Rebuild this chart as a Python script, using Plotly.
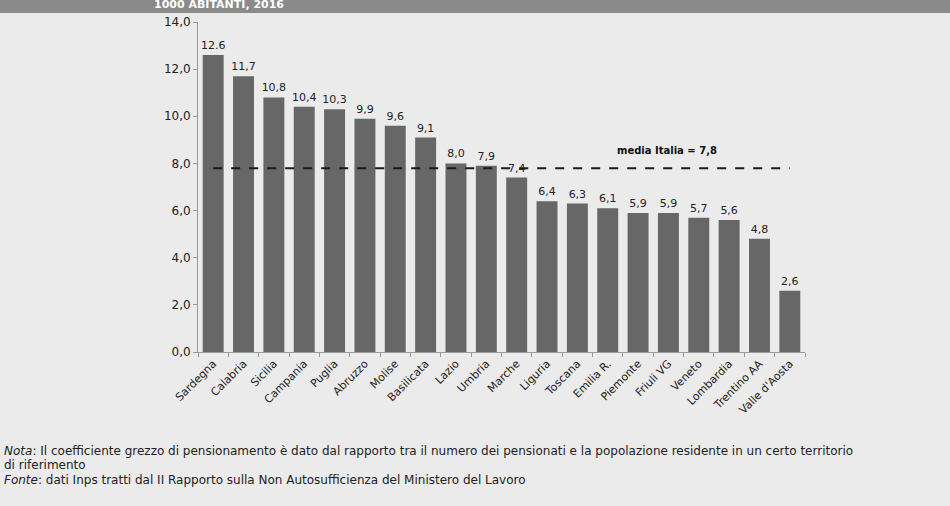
import plotly.graph_objects as go

regions = ["Sardegna", "Calabria", "Sicilia", "Campania", "Puglia", "Abruzzo", "Molise",
           "Basilicata", "Lazio", "Umbria", "Marche", "Liguria", "Toscana", "Emilia R.",
           "Piemonte", "Friuli VG", "Veneto", "Lombardia", "Trentino AA", "Valle d'Aosta"]
values = [12.6, 11.7, 10.8, 10.4, 10.3, 9.9, 9.6, 9.1, 8.0, 7.9, 7.4, 6.4, 6.3, 6.1,
          5.9, 5.9, 5.7, 5.6, 4.8, 2.6]
value_labels = ["12.6", "11,7", "10,8", "10,4", "10,3", "9,9", "9,6", "9,1", "8,0", "7,9",
                "7,4", "6,4", "6,3", "6,1", "5,9", "5,9", "5,7", "5,6", "4,8", "2,6"]
media_italia = 7.8
y_ticks = [0, 2, 4, 6, 8, 10, 12, 14]
y_tick_labels = ["0,0", "2,0", "4,0", "6,0", "8,0", "10,0", "12,0", "14,0"]

FONT = "DejaVu Sans, sans-serif"
BG = "#ebebeb"

W, H = 950, 506
L, R, T, B = 198, 145, 22, 154
pw, ph = W - L - R, H - T - B

def px_x(x):
    return (x - L) / pw

def px_y(y):
    return (H - B - y) / ph

fig = go.Figure()
fig.add_trace(go.Bar(
    x=regions, y=values, text=value_labels, textposition="outside",
    cliponaxis=False, constraintext="none",
    textfont=dict(family=FONT, size=11, color="#222222"),
    marker=dict(color="#676767", line=dict(width=0)),
    showlegend=False,
))
fig.add_trace(go.Scatter(
    x=[regions[0], regions[-1]], y=[media_italia, media_italia], mode="lines",
    line=dict(color="#1a1a1a", width=2, dash="dash"), showlegend=False,
))

fig.update_layout(
    width=W, height=H,
    margin=dict(l=L, r=R, t=T, b=B),
    paper_bgcolor=BG, plot_bgcolor=BG,
    bargap=0.31,
    font=dict(family=FONT, color="#222222"),
    xaxis=dict(tickangle=-45, tickfont=dict(family=FONT, size=11, color="#222222"),
               showline=True, linecolor="#999999", linewidth=1, automargin=False,
               ticks="outside", ticklen=4, tickcolor="#999999", tickson="boundaries",
               showgrid=False),
    yaxis=dict(range=[0, 14], tickvals=y_ticks, ticktext=y_tick_labels,
               tickfont=dict(family=FONT, size=12, color="#222222"), automargin=False,
               showline=True, linecolor="#999999", linewidth=1,
               ticks="outside", ticklen=4, tickcolor="#999999",
               showgrid=False, zeroline=False),
    shapes=[dict(type="rect", xref="paper", yref="paper",
                 x0=px_x(0), x1=px_x(W), y0=px_y(13), y1=px_y(-2),
                 fillcolor="#8a8a8a", line=dict(width=0), layer="below")],
    annotations=[
        dict(text="<b>1000 ABITANTI, 2016</b>", xref="paper", yref="paper",
             x=px_x(152), y=px_y(13), xanchor="left", yanchor="bottom",
             showarrow=False, font=dict(family="DejaVu Sans, sans-serif", size=11, color="#ffffff")),
        dict(text="<b>media Italia = 7,8</b>", xref="paper", yref="paper",
             x=px_x(667), y=px_y(150), xanchor="center", yanchor="middle",
             showarrow=False, font=dict(family=FONT, size=10, color="#111111")),
        dict(text="<i>Nota</i>: Il coefficiente grezzo di pensionamento è dato dal rapporto tra il numero dei pensionati e la popolazione residente in un certo territorio",
             xref="paper", yref="paper", x=px_x(2), y=px_y(451), xanchor="left", yanchor="middle",
             showarrow=False, font=dict(family=FONT, size=12, color="#222222")),
        dict(text="di riferimento",
             xref="paper", yref="paper", x=px_x(2), y=px_y(465), xanchor="left", yanchor="middle",
             showarrow=False, font=dict(family=FONT, size=12, color="#222222")),
        dict(text="<i>Fonte</i>: dati Inps tratti dal II Rapporto sulla Non Autosufficienza del Ministero del Lavoro",
             xref="paper", yref="paper", x=px_x(2), y=px_y(480), xanchor="left", yanchor="middle",
             showarrow=False, font=dict(family=FONT, size=12, color="#222222")),
    ],
)

fig.write_html("out.html", config={"displayModeBar": False},
               post_script="document.body.style.margin='0';")
